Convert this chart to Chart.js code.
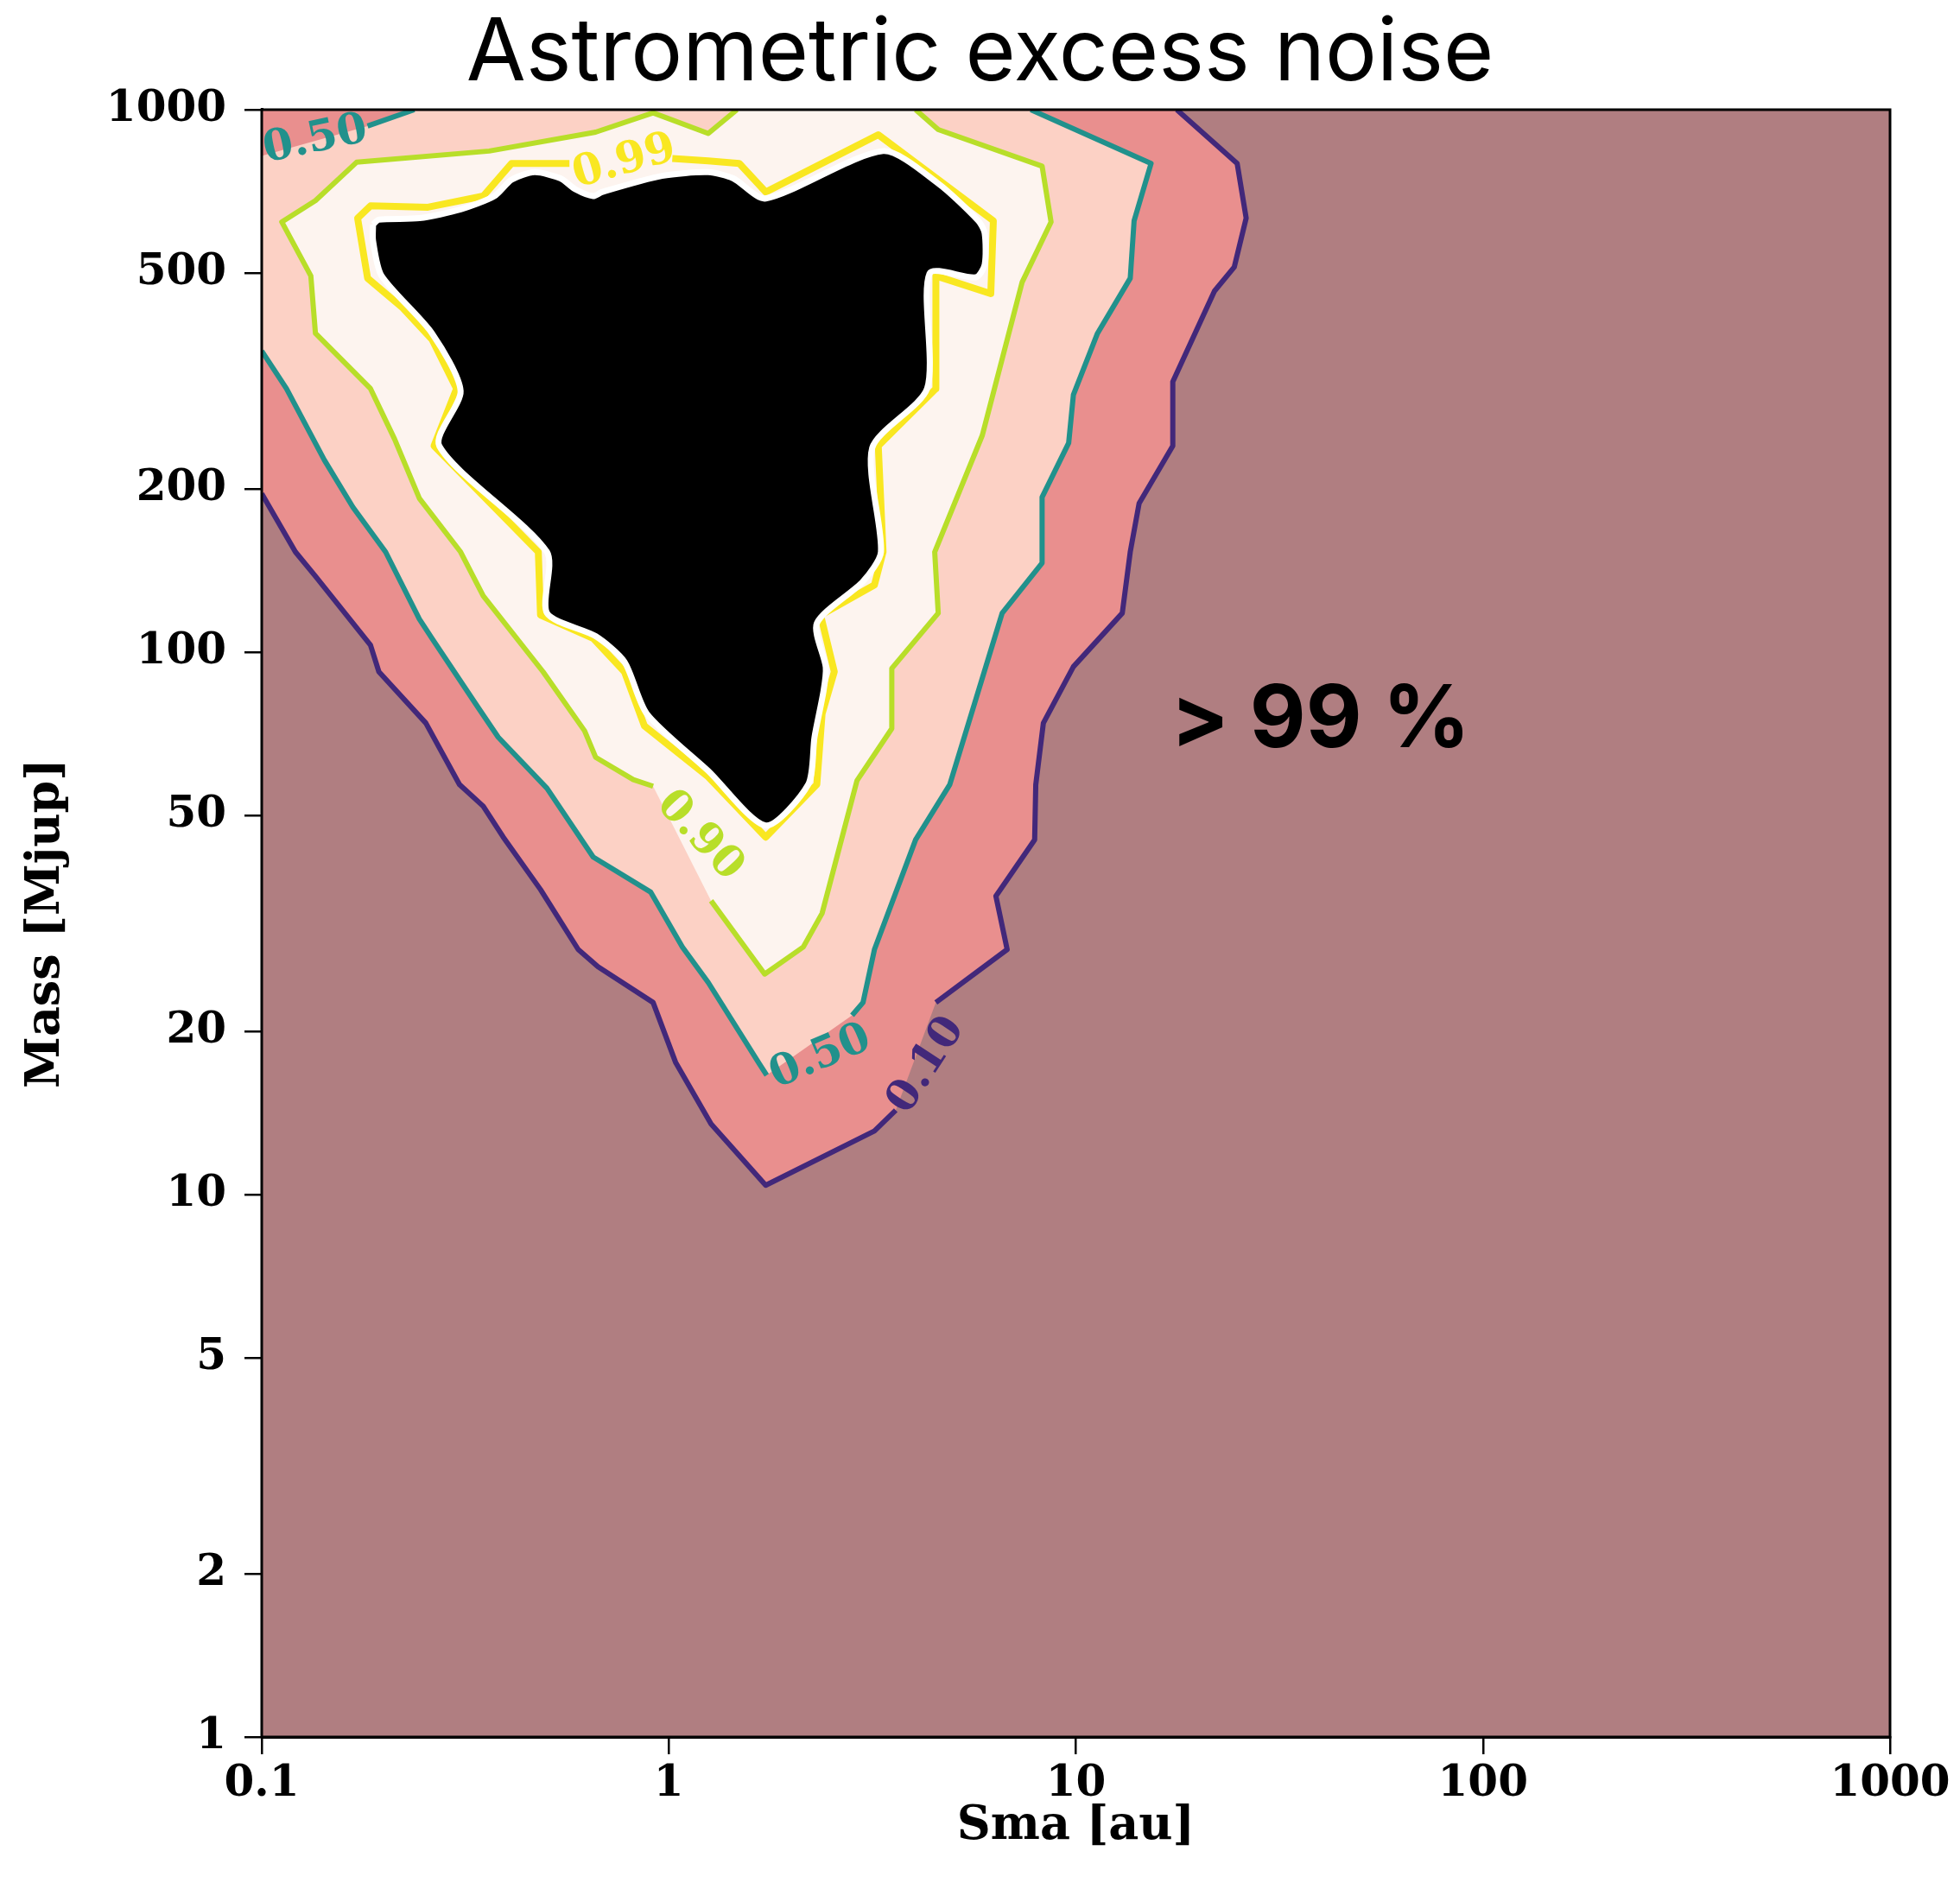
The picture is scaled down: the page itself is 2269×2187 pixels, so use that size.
<!DOCTYPE html>
<html><head><meta charset="utf-8">
<script src="https://cdn.jsdelivr.net/npm/chart.js@4.4.1/dist/chart.umd.min.js"></script>
<style>html,body{margin:0;padding:0;background:#fff;}#wrap{width:2269px;height:2187px;position:relative;}</style>
</head><body><div id="wrap"><canvas id="c"></canvas></div>
<script>
// ---------- texts & ticks ----------
const titleText = 'Astrometric excess noise';
const xTitle = 'Sma [au]';
const yTitle = 'Mass [Mjup]';
const xTickValues = [0.1, 1, 10, 100, 1000];
const xTickLabels = ['0.1', '1', '10', '100', '1000'];
const yTickValues = [1, 2, 5, 10, 20, 50, 100, 200, 500, 1000];
const yTickLabels = ['1', '2', '5', '10', '20', '50', '100', '200', '500', '1000'];
const smaRange = [0.1, 1000];
const massRange = [1, 1000];

// ---------- contour 0.10 ----------
const c10Sma  = [0.1, 0.121, 0.1355, 0.185, 0.194, 0.253, 0.306, 0.350, 0.392, 0.484, 0.599, 0.670, 0.915, 1.04, 1.27, 1.73, 3.2, 3.61, 4.53, 6.78, 6.36, 7.92, 7.97, 8.32, 9.86, 13.0, 13.6, 14.3, 17.3, 17.3, 21.9, 24.5, 26.2, 24.9, 17.7];
const c10Mass = [196, 153, 138, 103, 92, 74, 57, 52, 45.6, 36.5, 28.3, 26.3, 22.6, 17.5, 13.5, 10.4, 13.1, 14.3, 22.6, 28.3, 35.5, 45.1, 57, 74, 94, 118, 153, 188, 240, 315, 463, 513, 631, 796, 1000];
const c10GapAfter = [17];

// ---------- contour 0.50 ----------
const c50Sma  = [0.1, 0.115, 0.1425, 0.1675, 0.2015, 0.244, 0.262, 0.338, 0.381, 0.502, 0.652, 0.903, 1.08, 1.25, 1.67, 1.74, 2.82, 3.0, 3.2, 4.04, 4.9, 6.59, 8.26, 8.26, 9.6, 9.86, 11.3, 13.6, 13.9, 15.3, 7.75];
const c50Mass = [359, 306, 226, 185, 153, 115, 106, 79.6, 69.7, 56.1, 41.9, 36.1, 28.6, 24.6, 17.4, 16.6, 21.4, 22.6, 28.3, 45.1, 57, 118, 146, 193, 243, 298, 387, 489, 624, 796, 1000];
const c50GapAfter = [15];
const c50CornerSma  = [0.1, 0.182, 0.237];
const c50CornerMass = [822, 933, 1000];
const c50CornerGapAfter = [0];

// ---------- contour 0.90 ----------
const c90Sma  = [1.47, 1.25, 0.915, 0.661, 0.362, 0.171, 0.1355, 0.112, 0.132, 0.1355, 0.185, 0.212, 0.244, 0.308, 0.350, 0.491, 0.621, 0.661, 0.818, 0.915, 1.27, 1.72, 2.14, 2.38, 2.90, 3.53, 3.53, 4.59, 4.50, 5.89, 7.38, 8.69, 8.26, 4.59, 4.04];
const c90Mass = [1000, 904, 987, 909, 839, 800, 680, 621, 494, 387, 306, 247, 192, 153, 127, 92, 71.6, 64, 58.2, 56.6, 34.8, 25.5, 28.6, 33.0, 58.0, 72.3, 93.3, 118, 153, 251, 481, 621, 787, 919, 1000];
const c90GapAfter = [19];

// ---------- contour 0.99 ----------
const c99Sma  = [1.02, 1.25, 1.49, 1.73, 3.27, 6.27, 6.18, 4.53, 4.53, 3.27, 3.36, 3.2, 2.36, 2.55, 2.38, 2.31, 1.73, 1.25, 0.871, 0.778, 0.652, 0.484, 0.478, 0.265, 0.301, 0.262, 0.222, 0.182, 0.172, 0.185, 0.256, 0.350, 0.411, 0.570];
const c99Mass = [813, 805, 796, 705, 899, 624, 458, 494, 306, 240, 153, 133, 117, 92, 77, 57, 45.6, 58.9, 73.1, 92, 106, 117, 153, 240, 306, 377, 431, 489, 631, 665, 661, 693, 796, 796];

// ---------- black masked area ----------
const maskSma  = [0.1877, 0.1877, 0.197, 0.262, 0.308, 0.273, 0.502, 0.502, 0.661, 0.778, 0.883, 1.25, 1.73, 2.20, 2.28, 2.40, 2.43, 2.31, 3.0, 3.32, 3.16, 4.31, 4.37, 5.68, 5.97, 5.97, 5.76, 4.59, 3.36, 1.73, 1.44, 1.25, 0.962, 0.685, 0.652, 0.59, 0.542, 0.468, 0.411, 0.373, 0.308, 0.244, 0.194];
const maskMass = [614, 573, 494, 387, 303, 240, 153, 118, 107, 96, 77, 60.4, 47.9, 57, 69.7, 84.9, 93.8, 113, 135, 153, 238, 306, 499, 491, 518, 592, 624, 731, 839, 686, 747, 767, 755, 705, 693, 713, 747, 767, 743, 693, 655, 631, 627];

// ---------- contour labels ----------
const labelText = ['0.10', '0.50', '0.90', '0.99', '0.50'];
const labelSma  = [4.30, 2.36, 1.19, 0.778, 0.1355];
const labelMass = [17.3, 17.9, 45.8, 800, 878];
const labelAngle = [-57, -23, 47, -16, -12];

const annotationText = '> 99 %';
const annotationSma = 17.1;
const annotationMass = 66.8;

// ---------- styles ----------
const col = {
  bg: '#b07e81', r10: '#e98f8e', r50: '#fcd1c5', r90: '#fdf4ef',
  l10: '#42287a', l50: '#21918c', l90: '#b8de29', l99: '#f9e721'
};
const labelColor = [col.l10, col.l50, col.l90, col.l99, col.l50];

// ---------- helpers ----------
const pts = (s, m) => s.map((x, i) => ({x, y: m[i]}));
const gapped = (s, m, gaps) => {
  const out = [];
  s.forEach((x, i) => { out.push({x, y: m[i]}); if (gaps.includes(i)) out.push({x, y: null}); });
  return out;
};
const fillSet = (data, color, order) => ({
  data, showLine: true, fill: 'shape', backgroundColor: color, borderWidth: 0,
  pointRadius: 0, tension: 0, order
});
const lineSet = (data, color, width, order) => ({
  data, showLine: true, fill: false, borderColor: color, borderWidth: width,
  pointRadius: 0, tension: 0, order, spanGaps: false, borderJoinStyle: 'round', borderCapStyle: 'butt'
});

const bgPoly = [{x: smaRange[0], y: massRange[0]}, {x: smaRange[1], y: massRange[0]}, {x: smaRange[1], y: massRange[1]}, {x: smaRange[0], y: massRange[1]}];
const r10Poly = pts(c10Sma, c10Mass).concat([{x: smaRange[0], y: massRange[1]}]);
const r50Poly = pts(c50Sma, c50Mass).concat(pts(c50CornerSma, c50CornerMass).reverse());
const r90Poly = pts(c90Sma, c90Mass);
const maskPoly = pts(maskSma, maskMass).concat([{x: maskSma[0], y: maskMass[0]}]);

const datasets = [
  fillSet(bgPoly, col.bg, 100),
  fillSet(r10Poly, col.r10, 90),
  fillSet(r50Poly, col.r50, 80),
  fillSet(r90Poly, col.r90, 70),
  lineSet(gapped(c10Sma, c10Mass, c10GapAfter), col.l10, 6, 60),
  lineSet(gapped(c50Sma, c50Mass, c50GapAfter), col.l50, 6, 50),
  lineSet(gapped(c50CornerSma, c50CornerMass, c50CornerGapAfter), col.l50, 6, 49),
  lineSet(gapped(c90Sma, c90Mass, c90GapAfter), col.l90, 6, 40),
  lineSet(pts(c99Sma, c99Mass), col.l99, 8, 30),
  {data: maskPoly, showLine: true, fill: 'shape', backgroundColor: '#000', borderColor: '#fff', borderWidth: 7,
   pointRadius: 0, tension: 0.25, order: 10}
];

const serif = '"DejaVu Serif", serif';
const sans = 'Inter, "Liberation Sans", Arial, sans-serif';

const decorPlugin = {
  id: 'decor',
  beforeDraw(chart) {
    const c = chart.ctx; c.save(); c.fillStyle = '#fff'; c.fillRect(0, 0, chart.width, chart.height); c.restore();
  },
  afterDatasetsDraw(chart) {
    const c = chart.ctx, a = chart.chartArea, xs = chart.scales.x, ys = chart.scales.y;
    c.save();
    c.beginPath(); c.rect(a.left, a.top, a.right - a.left, a.bottom - a.top); c.clip();
    c.font = 'bold 50px ' + serif;
    c.textAlign = 'center'; c.textBaseline = 'middle';
    labelText.forEach((t, i) => {
      c.save();
      c.translate(xs.getPixelForValue(labelSma[i]), ys.getPixelForValue(labelMass[i]));
      c.rotate(labelAngle[i] * Math.PI / 180);
      c.fillStyle = labelColor[i];
      c.fillText(t, 0, 0);
      c.restore();
    });
    c.font = 'bold 100px ' + sans;
    c.textAlign = 'left'; c.textBaseline = 'alphabetic'; c.fillStyle = '#000';
    c.fillText(annotationText, xs.getPixelForValue(annotationSma), ys.getPixelForValue(annotationMass));
    c.restore();
    c.save();
    c.strokeStyle = '#000'; c.lineWidth = 3;
    c.strokeRect(a.left, a.top, a.right - a.left, a.bottom - a.top);
    c.restore();
  }
};

new Chart(document.getElementById('c'), {
  type: 'scatter',
  data: {datasets},
  plugins: [decorPlugin],
  options: {
    responsive: true, maintainAspectRatio: false, animation: false, events: [],
    layout: {padding: {top: 5.7, left: 0, right: 0, bottom: 0}},
    plugins: {
      legend: {display: false}, tooltip: {enabled: false},
      title: {display: true, text: titleText, color: '#000',
        font: {family: sans, size: 100, weight: 'normal', lineHeight: 1.15},
        padding: {top: 0, bottom: 6.3}}
    },
    scales: {
      x: {
        type: 'logarithmic', min: smaRange[0], max: smaRange[1],
        afterBuildTicks: s => { s.ticks = xTickValues.map(v => ({value: v})); },
        afterFit: s => { s.height = 176; },
        ticks: {color: '#000', font: {family: serif, size: 50, weight: 'bold'}, padding: 5,
          maxRotation: 0, autoSkip: false,
          callback: (v) => { const i = xTickValues.findIndex(t => Math.abs(t - v) / t < 1e-6); return i >= 0 ? xTickLabels[i] : ''; }},
        grid: {drawOnChartArea: false, drawTicks: true, tickLength: 20, color: '#000', lineWidth: 2.5},
        border: {display: true, color: '#000', width: 3},
        title: {display: true, text: xTitle, color: '#000', font: {family: serif, size: 54, weight: 'bold', lineHeight: 1.2},
          padding: {top: 0, bottom: 40}}
      },
      y: {
        type: 'logarithmic', min: massRange[0], max: massRange[1],
        afterBuildTicks: s => { s.ticks = yTickValues.map(v => ({value: v})); },
        afterFit: s => { s.width = 303; },
        ticks: {color: '#000', font: {family: serif, size: 50, weight: 'bold'}, padding: 21, autoSkip: false,
          callback: (v) => { const i = yTickValues.findIndex(t => Math.abs(t - v) / t < 1e-6); return i >= 0 ? yTickLabels[i] : ''; }},
        grid: {drawOnChartArea: false, drawTicks: true, tickLength: 20, color: '#000', lineWidth: 2.5},
        border: {display: true, color: '#000', width: 3},
        title: {display: true, text: yTitle, color: '#000', font: {family: serif, size: 54, weight: 'bold', lineHeight: 1.2},
          padding: {top: 22, bottom: 0}}
      },
      yRightMargin: {
        type: 'linear', position: 'right', display: true,
        afterFit: s => { s.width = 81; },
        ticks: {display: false}, grid: {display: false, drawTicks: false}, border: {display: false}, title: {display: false}
      }
    }
  }
});
</script></body></html>
